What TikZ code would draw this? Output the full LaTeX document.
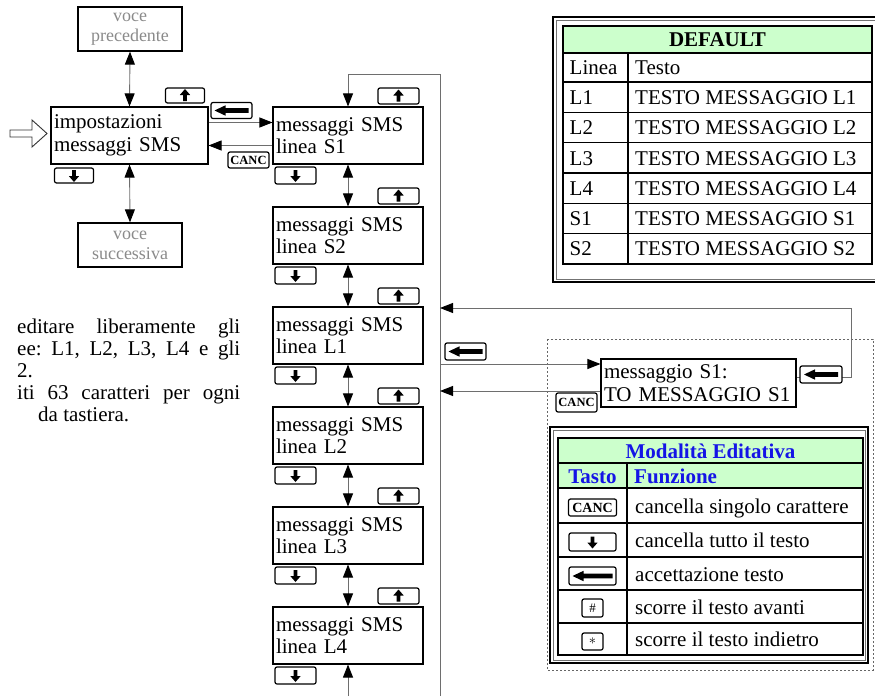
\documentclass[tikz,border=0pt]{standalone}
\usepackage{fontspec}
\setmainfont{Liberation Serif}
\usetikzlibrary{arrows.meta,calc}
\definecolor{hdrgreen}{HTML}{CCFFCC}
\definecolor{linegray}{HTML}{6E6E6E}
\definecolor{txtgray}{HTML}{8A8A8A}
\definecolor{hdrblue}{HTML}{1414E6}
\newcommand\fsz{\fontsize{21}{22.5}\selectfont}
\tikzset{
 mbox/.style={draw=black,line width=1.1pt,fill=white,minimum width=150pt,minimum height=57pt,text width=144pt,inner xsep=3pt,inner ysep=0pt,align=left,font=\fsz},
 vbox/.style={draw=black,line width=1.3pt,minimum width=104pt,minimum height=44pt,align=center,inner sep=0pt,text=txtgray,font=\fontsize{18}{20}\selectfont},
 conn/.style={draw=linegray,line width=0.9pt},
 keyb/.style={draw=black,line width=1.2pt,rounded corners=2pt,fill=white,inner sep=0pt},
 tbl/.style={draw=black,line width=1.1pt},
 txt/.style={font=\fsz,inner sep=0pt,anchor=base west},
 ctxt/.style={font=\fsz,inner sep=0pt,anchor=base},
}
\newcommand\mkey[4]{\node[keyb,minimum width=#3pt,minimum height=#4pt] (#1) at (#2) {};}
\newcommand\keyUpG[1]{\fill[shift={(#1.center)}] (0,-6.5) -- (5.2,-0.5) -- (1.9,-0.5) -- (1.9,5.5) -- (-1.9,5.5) -- (-1.9,-0.5) -- (-5.2,-0.5) -- cycle;}
\newcommand\keyDownG[1]{\fill[shift={(#1.center)}] (0,6.5) -- (5.2,0.5) -- (1.9,0.5) -- (1.9,-5.5) -- (-1.9,-5.5) -- (-1.9,0.5) -- (-5.2,0.5) -- cycle;}
\newcommand\keyLeftG[2]{\fill[shift={(#1.center)}] (-#2,0) -- (-#2+11,-5.2) -- (-#2+11,-2.4) -- (#2,-2.4) -- (#2,2.4) -- (-#2+11,2.4) -- (-#2+11,5.2) -- cycle;}
\newcommand\ckey[4]{\node[keyb,minimum width=#3pt,minimum height=#4pt,font=\bfseries\fontsize{12.5}{13}\selectfont] (#1) at (#2) {CANC};}
\begin{document}
\begin{tikzpicture}[x=1pt,y=-1pt,>={Triangle[length=13pt,width=10pt,color=black,fill=black]}]
\useasboundingbox (0,0) rectangle (875,696);

% dashed edit area
\draw[draw=black!60,line width=0.7pt,dash pattern=on 2pt off 2pt] (547,339) rectangle (873,670);

% left column
\node[vbox] (prev) at (130,29) {voce\\precedente};
\node[vbox] (next) at (130,245) {voce\\successiva};
\node[mbox,minimum width=157pt,text width=151pt] (imp) at (129.5,135.5) {impostazioni\\messaggi SMS};
\draw[conn,<->] (prev.south) -- (imp.north);
\draw[conn,<->] (imp.south) -- (next.north);
\draw[line width=0.9pt,draw=black!80,fill=white] (10,130) -- (32,130) -- (32,120) -- (47,133.5) -- (32,147) -- (32,137) -- (10,137) -- cycle;
\mkey{kiu}{185,95.5}{39}{15}\keyUpG{kiu}
\mkey{kid}{74,175.5}{39}{15}\keyDownG{kid}
\mkey{kil}{231.5,110.5}{41}{16}\keyLeftG{kil}{17}
\ckey{kic}{248.5,160}{41}{16}

% middle column
\foreach \n [count=\i from 0] in {S1,S2,L1,L2,L3,L4}{
  \node[mbox] (\n) at (348,135.5+100*\i) {messaggi SMS\\linea \n};
  \mkey{u\n}{398.5,96+100*\i}{41}{16}\keyUpG{u\n}
  \mkey{d\n}{295.5,175.5+100*\i}{41}{17}\keyDownG{d\n}
}
\foreach \a/\b in {S1/S2,S2/L1,L1/L2,L2/L3,L3/L4}{
  \draw[conn,<->] (\a.south) -- (\b.north);
}
\draw[conn,->] ([yshift=13pt]imp.east) -- ([yshift=13pt]S1.west);
\draw[conn,->] ([yshift=-10pt]S1.west) -- ([yshift=-10pt]imp.east);

\coordinate (vtop) at (440,74);
\coordinate (vbot) at (440,696);
\coordinate (l4in) at (348,696);
\draw[conn,->] (vbot) -- (vtop) -| (S1.north);
\draw[conn,->] (l4in) -- (L4.south);

% edit box
\node[mbox,minimum width=195pt,text width=189pt,minimum height=48pt] (edit) at (698.5,383) {messaggio S1:\\TO MESSAGGIO S1};
\coordinate (rc) at (851,308);
\coordinate (vin) at (440,364);
\coordinate (vout) at (440,391);
\draw[conn,->] ([yshift=6pt]edit.east) -| (rc) -- (vtop |- rc);
\draw[conn,->] (vin) -- (vin -| edit.west);
\draw[conn,->] (vout -| edit.west) -- (vout);
\mkey{kel}{465.5,351.5}{41}{17}\keyLeftG{kel}{17}
\mkey{ker}{821,374.5}{42}{17}\keyLeftG{ker}{17}
\ckey{kec}{576.5,402.5}{41}{19}

% DEFAULT table
\draw[line width=1.4pt] (553,17) rectangle (890,282);
\draw[draw=black!55,line width=0.7pt] (556,20) rectangle (890,279);
\fill[hdrgreen] (563,26) rectangle (872,53);
\draw[tbl] (563,26) rectangle (872,264);
\foreach \y in {53,82,112.3,142.7,173,203.3,233.7} \draw[tbl] (563,\y) -- (872,\y);
\draw[tbl] (628,53) -- (628,264);
\node[ctxt,font=\bfseries\fontsize{21}{22}\selectfont] (dhead) at (717.5,46) {DEFAULT};
\node[txt] (dl0) at (569.5,74.5) {Linea};
\node[txt] (dt0) at (635,74.5) {Testo};
\foreach \l [count=\i] in {L1,L2,L3,L4,S1,S2}{
  \node[txt] (dl\i) at (569.5,74.5+30.2*\i) {\l};
  \node[txt] (dt\i) at (635,74.5+30.2*\i) {TESTO MESSAGGIO \l};
}

% Modalita table
\draw[line width=1.4pt] (550,427) rectangle (868,663);
\draw[draw=black!55,line width=0.7pt] (553,430) rectangle (865,660);
\fill[hdrgreen] (558,438) rectangle (863,488);
\draw[tbl] (558,438) rectangle (863,655);
\foreach \y in {463,488,523,557,590,623} \draw[tbl] (558,\y) -- (863,\y);
\draw[tbl] (627,463) -- (627,655);
\node[ctxt,font=\bfseries\fontsize{21}{22}\selectfont,text=hdrblue] (mhead) at (710.5,458) {Modalità Editativa};
\node[ctxt,font=\bfseries\fontsize{21}{22}\selectfont,text=hdrblue] (mtasto) at (592.5,483) {Tasto};
\node[txt,font=\bfseries\fontsize{21}{22}\selectfont,text=hdrblue] (mfunz) at (634,483) {Funzione};
\node[txt] (f1) at (635,513) {cancella singolo carattere};
\node[txt] (f2) at (635,547.5) {cancella tutto il testo};
\node[txt] (f3) at (635,581) {accettazione testo};
\node[txt] (f4) at (635,614) {scorre il testo avanti};
\node[txt] (f5) at (635,646.5) {scorre il testo indietro};
\node[keyb,minimum width=48pt,minimum height=17pt,font=\bfseries\fontsize{14}{14}\selectfont] (tc) at (592.5,507.5) {CANC};
\mkey{td}{592.5,542}{47}{18}\keyDownG{td}
\mkey{tl}{592.5,576}{47}{18}\keyLeftG{tl}{20}
\node[keyb,minimum width=21pt,minimum height=18pt,font=\fontsize{13}{13}\selectfont] (th) at (592.5,608) {\#};
\node[keyb,minimum width=21pt,minimum height=17pt,font=\fontsize{15}{15}\selectfont] (ts) at (592.5,641.5) {$\ast$};

% paragraph (clipped text)
\node[txt] (p1) at (17,333) {\hbox to 223pt{editare\hfill liberamente\hfill gli}};
\node[txt] (p2) at (17,355) {\hbox to 223pt{ee:\hfill L1,\hfill L2,\hfill L3,\hfill L4\hfill e\hfill gli}};
\node[txt] (p3) at (17,377) {2.};
\node[txt] (p4) at (17,399) {\hbox to 223pt{iti\hfill 63\hfill caratteri\hfill per\hfill ogni}};
\node[txt] (p5) at (38,421) {da tastiera.};
\end{tikzpicture}
\end{document}
